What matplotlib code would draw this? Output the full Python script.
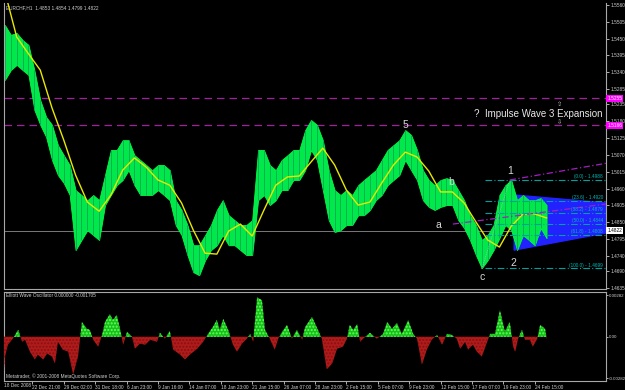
import matplotlib
matplotlib.use("Agg")
import matplotlib.pyplot as plt
import numpy as np

plt.rcParams['font.family'] = ['Liberation Sans', 'DejaVu Sans']

# ---------------- data ----------------
symbol_text = "EURCHF,H1  1.4853 1.4854 1.4799 1.4822"
osc_title = "Elliott Wave Oscillator 0.000000 -0.001705"
copyright_text = "Metatrader, \u00a9 2001-2008 MetaQuotes Software Corp."

# price samples: every 12 H1 bars starting at bar 8
sample_start, sample_step = 8, 12
price_high = [1.5494, 1.5462, 1.5468, 1.5445, 1.5429, 1.5347, 1.5249, 1.5194, 1.5168, 1.5102,
              1.5069, 1.5037, 1.4955, 1.4939, 1.4922, 1.4939, 1.4922, 1.5004, 1.5086, 1.5086,
              1.5118, 1.5118, 1.5069, 1.5053, 1.5037, 1.5020, 1.5037, 1.5037, 1.5020, 1.4922,
              1.4890, 1.4841, 1.4775, 1.4775, 1.4808, 1.4841, 1.4890, 1.4922, 1.4873, 1.4857,
              1.4841, 1.4841, 1.4857, 1.5086, 1.5086, 1.5037, 1.5020, 1.5053, 1.5069, 1.5086,
              1.5086, 1.5151, 1.5184, 1.5168, 1.5118, 1.5020, 1.4955, 1.4939, 1.4955, 1.4939,
              1.4971, 1.4988, 1.5004, 1.5020, 1.5053, 1.5086, 1.5102, 1.5118, 1.5151, 1.5135,
              1.5086, 1.5020, 1.4988, 1.4971, 1.4988, 1.4994, 1.4988, 1.4955, 1.4922, 1.4873,
              1.4841, 1.4792, 1.4808, 1.4841, 1.4939, 1.4971, 1.4988, 1.4922, 1.4939, 1.4922,
              1.4922, 1.4929, 1.4906]
price_low = [1.5315, 1.5347, 1.5364, 1.5347, 1.5331, 1.5217, 1.5168, 1.5128, 1.5053, 1.5004,
             1.4978, 1.4939, 1.4759, 1.4792, 1.4824, 1.4808, 1.4792, 1.4906, 1.4939, 1.4971,
             1.4988, 1.5020, 1.4971, 1.4939, 1.4939, 1.4939, 1.4955, 1.4939, 1.4922, 1.4841,
             1.4808, 1.4743, 1.4687, 1.4677, 1.4726, 1.4759, 1.4775, 1.4808, 1.4775, 1.4775,
             1.4759, 1.4743, 1.4743, 1.4922, 1.4939, 1.4906, 1.4922, 1.4955, 1.4955, 1.4988,
             1.4988, 1.5020, 1.5086, 1.5053, 1.4955, 1.4857, 1.4818, 1.4824, 1.4841, 1.4841,
             1.4873, 1.4873, 1.4890, 1.4922, 1.4939, 1.4971, 1.4988, 1.5004, 1.5053, 1.5020,
             1.4988, 1.4922, 1.4900, 1.4890, 1.4900, 1.4906, 1.4906, 1.4857, 1.4831, 1.4792,
             1.4743, 1.4700, 1.4726, 1.4759, 1.4798, 1.4841, 1.4824, 1.4759, 1.4808, 1.4792,
             1.4775, 1.4831, 1.4798]

# moving average (yellow), every 24 bars starting at bar 8
ma_step = 24
ma_values = [1.5602, 1.5455, 1.5400, 1.5347, 1.5223, 1.5118, 1.5004, 1.4916, 1.4886, 1.4939,
             1.5020, 1.5060, 1.5030, 1.4988, 1.4971, 1.4913, 1.4824, 1.4749, 1.4746, 1.4821,
             1.4844, 1.4805, 1.4890, 1.4971, 1.4998, 1.5001, 1.5047, 1.5092, 1.5037, 1.4955,
             1.4906, 1.4916, 1.4978, 1.5037, 1.5079, 1.5063, 1.5017, 1.4949, 1.4949, 1.4913,
             1.4851, 1.4792, 1.4769, 1.4837, 1.4877, 1.4877, 1.4864]

# Elliott wave oscillator readings (bar index, value)
osc_bar = [6, 8, 14, 24, 35, 43, 49, 59, 69, 75, 86, 94, 104, 110, 116, 126, 137, 147, 157, 165,
           175, 181, 188, 198, 206, 212, 222, 228, 236, 243, 249, 257, 267, 273, 283, 294, 304, 318, 324, 334,
           344, 351, 365, 375, 385, 400, 412, 422, 432, 440, 446, 453, 463, 473, 481, 491, 501, 508, 514, 522,
           532, 538, 548, 558, 565, 573, 583, 593, 603, 614, 620, 634, 646, 654, 664, 675, 685, 697, 705, 711,
           718, 726, 732, 738, 752, 766, 779, 787, 797, 807, 817, 830, 840, 848, 858, 868, 878, 889, 899, 909,
           919, 929, 936, 946, 952, 962, 970, 980, 991, 997, 1007, 1017, 1027, 1037, 1044, 1048, 1054, 1062, 1068, 1078,
           1084, 1093, 1099, 1109, 1113]
osc_val = [-0.00242, -0.00134, -0.00054, -0.00013, 0.00047, -0.00034, -0.00020, -0.00101, -0.00154, -0.00121,
           -0.00154, -0.00114, -0.00134, -0.00181, -0.00034, -0.00087, -0.00101, -0.00255, -0.00134, 0.00101,
           0.00054, 0.00047, -0.00020, -0.00067, 0.00013, 0.00101, 0.00154, 0.00114, 0.00148, 0.00047,
           -0.00054, 0.00034, 0.0, -0.00081, -0.00047, -0.00054, -0.00020, -0.00034, 0.00027, -0.00013,
           0.00040, -0.00087, -0.00121, -0.00154, -0.00121, -0.00081, -0.00034, 0.00020, 0.00067, 0.00114,
           0.00047, 0.00121, 0.00047, -0.00054, -0.00101, -0.00047, -0.00013, 0.00020, -0.00034, 0.00268,
           0.00248, 0.00047, -0.00013, -0.00087, -0.00013, 0.00034, 0.00081, -0.00013, 0.00047, -0.00020,
           0.00067, 0.00134, 0.00047, -0.00013, -0.00221, -0.00181, -0.00081, -0.00067, -0.00013, 0.00081,
           0.00047, 0.00087, -0.00034, -0.00013, 0.00027, -0.00013, 0.00020, 0.00101, 0.00054, 0.00094,
           0.00020, 0.00114, 0.00020, -0.00013, -0.00188, -0.00087, -0.00020, 0.00013, -0.00054, 0.00020,
           0.00013, -0.00013, -0.00081, -0.00034, -0.00087, -0.00054, -0.00101, -0.00134, -0.00034, 0.00020,
           0.00020, 0.00181, 0.00034, 0.00101, -0.00067, -0.00101, -0.00013, 0.00047, -0.00020, -0.00020,
           -0.00067, -0.00013, 0.00081, 0.00054, -0.00020]

x_tick_bars = [64 * i for i in range(1, 18)]
x_tick_labels = ["22 Dec 21:00", "29 Dec 02:00", "31 Dec 18:00", "6 Jan 23:00", "9 Jan 16:00",
                 "14 Jan 07:00", "18 Jan 23:00", "21 Jan 15:00", "26 Jan 07:00", "28 Jan 23:00",
                 "2 Feb 15:00", "5 Feb 07:00", "9 Feb 23:00", "12 Feb 15:00", "17 Feb 07:00",
                 "19 Feb 23:00", "24 Feb 15:00"]
first_label = "18 Dec 2008"
y_ticks = [1.5560, 1.5505, 1.5450, 1.5395, 1.5340, 1.5285, 1.5235, 1.5180, 1.5125, 1.5070,
           1.5015, 1.4960, 1.4905, 1.4850, 1.4795, 1.4740, 1.4690, 1.4635]
osc_ticks = [0.00282, 0.0, -0.00282]
osc_tick_labels = ["0.00282", "0.00", "-0.00282"]
last_price = 1.4822
target_levels = [1.5255, 1.5166]

fib_names = ["(0.0)", "(23.6)", "(38.2)", "(50.0)", "(61.8)", "(100.0)"]
fib_prices = [1.4988, 1.4920, 1.4879, 1.4844, 1.4808, 1.4699]
fib_start_bar = 987

triangle_bars = [1046, 1233, 1233, 1046]
triangle_prices = [1.4939, 1.4913, 1.4815, 1.4759]

trend1_bars, trend1_prices = [1037, 1235], [1.4988, 1.5043]
trend2_bars, trend2_prices = [921, 1235], [1.4844, 1.4910]
zigzag_bars, zigzag_prices = [980, 1037], [1.4697, 1.4988]

wave_labels = ["5", "b", "a", "c", "1", "2"]
wave_bars = [825, 917, 891, 980, 1037, 1044]
wave_prices = [1.5168, 1.4981, 1.4841, 1.4670, 1.5016, 1.4718]

# ---------------- drawing ----------------
FS = 3.4
W, H = 625, 390
fig = plt.figure(figsize=(W / 100, H / 100), dpi=100, facecolor='black')
L, R = 4 / W, 606 / W
ax = fig.add_axes([L, 1 - 289 / H, R - L, (289 - 3) / H], facecolor='black')
ax2 = fig.add_axes([L, 1 - 381 / H, R - L, (381 - 292) / H], facecolor='black', sharex=ax)

xmin, xmax = 6.1, 1233.2
ax.set_xlim(xmin, xmax)
ax.set_ylim(1.4632, 1.5566)
ax2.set_ylim(-0.00300, 0.00304)

for a in (ax, ax2):
    for s in a.spines.values():
        s.set_color('#a8a8a8')
        s.set_linewidth(0.8)
ax.spines['top'].set_visible(False)

# horizontal lines
ax.axhline(last_price, color='#8c8c8c', lw=0.6, zorder=1)
for lv in target_levels:
    ax.axhline(lv, color='#a020a0', lw=0.9, ls=(0, (6, 4)), zorder=1)

# price
bars = np.array([sample_start + sample_step * i for i in range(len(price_high))])
ax.fill_between(bars, price_low, price_high, color='#00e84a', lw=0.6, edgecolor='#00ff40', zorder=3)
ax.vlines(bars, price_low, price_high, color='#0a9a5a', lw=0.5, zorder=3)

# triangle
ax.fill(triangle_bars, triangle_prices, color='#2222ff', zorder=2, clip_on=True)

# MA
ma_bars = np.array([sample_start + ma_step * i for i in range(len(ma_values))])
ax.plot(ma_bars, ma_values, color='#e8e800', lw=1.0, zorder=4)

# fib lines
for nm, p in zip(fib_names, fib_prices):
    ax.plot([fib_start_bar, xmax], [p, p], color='#00a0a0', lw=0.8, ls=(0, (6, 2, 1, 2)), zorder=5)
    ax.text(xmax - 6, p + 0.0003, f"{nm} - {p:.4f}", color='#00b8b8', fontsize=FS,
            ha='right', va='bottom', zorder=6)

# trend lines
ax.plot(trend1_bars, trend1_prices, color='#a020c0', lw=0.9, ls=(0, (5, 2, 1, 2)), zorder=5)
ax.plot(trend2_bars, trend2_prices, color='#a020c0', lw=0.9, ls=(0, (5, 2, 1, 2)), zorder=5)
ax.plot(zigzag_bars, zigzag_prices, color='#c0c0c0', lw=0.6, ls=(0, (1, 1.5)), zorder=5)

# wave labels
for t, b, p in zip(wave_labels, wave_bars, wave_prices):
    ax.text(b, p, t, color='#d8d8d8', fontsize=7.5, ha='center', va='center', zorder=7)
ax.text(1233 - 6, 1.5203, "?  Impulse Wave 3 Expansion", color='#e8e8e8', fontsize=7, ha='right',
        va='center', zorder=7)
ax.text(1139, 1.5236, "\u21e7", color='#c8c8c8', fontsize=4.5, ha='center', va='center',
        family='DejaVu Sans')
ax.text(1139, 1.5176, "\u21e9", color='#c8c8c8', fontsize=4.5, ha='center', va='center',
        family='DejaVu Sans')

ax.text(0.003, 0.993, symbol_text, transform=ax.transAxes, color='#d0d0d0', fontsize=FS,
        ha='left', va='top')

# y axis (right)
ax.yaxis.tick_right()
ax.set_yticks(y_ticks)
ax.set_yticklabels([f"{v:.4f}" for v in y_ticks])
ax.tick_params(axis='y', colors='#d0d0d0', labelsize=FS, length=2, width=0.6, pad=1.5)
ax.tick_params(axis='x', bottom=False, labelbottom=False)
for lv in target_levels:
    ax.text(1.002, lv, f"{lv:.4f}", transform=ax.get_yaxis_transform(), color='white', fontsize=FS,
            ha='left', va='center', clip_on=False,
            bbox=dict(boxstyle='square,pad=0.2', fc='#ff00ff', ec='none'))
ax.text(1.002, last_price, f"{last_price:.4f}", transform=ax.get_yaxis_transform(), color='black',
        fontsize=FS, ha='left', va='center', clip_on=False,
        bbox=dict(boxstyle='square,pad=0.2', fc='white', ec='none'))

# oscillator
ob = np.array(osc_bar)
ov = np.array(osc_val)
ax2.fill_between(ob, ov, 0, where=ov >= 0, interpolate=True, facecolor='#18c018',
                 edgecolor='#60ff60', hatch='.....', lw=0, zorder=3)
ax2.fill_between(ob, ov, 0, where=ov <= 0, interpolate=True, facecolor='#b01c1c',
                 edgecolor='#8a1010', hatch='.....', lw=0, zorder=3)
ax2.yaxis.tick_right()
ax2.set_yticks(osc_ticks)
ax2.set_yticklabels(osc_tick_labels)
ax2.tick_params(axis='y', colors='#d0d0d0', labelsize=3.2, length=1.5, width=0.6, pad=0.8)
ax2.text(0.003, 0.985, osc_title, transform=ax2.transAxes, color='#d0d0d0', fontsize=FS,
         ha='left', va='top')
ax2.text(0.003, 0.02, copyright_text, transform=ax2.transAxes, color='#d0d0d0', fontsize=FS,
         ha='left', va='bottom')

ax2.set_xticks(x_tick_bars)
ax2.set_xticklabels(x_tick_labels)
ax2.tick_params(axis='x', colors='#d0d0d0', labelsize=FS, length=2, width=0.6, pad=1.0)
for lbl in ax2.get_xticklabels():
    lbl.set_horizontalalignment('left')
ax2.text(0.0, -0.025, first_label, transform=ax2.transAxes, color='#d0d0d0', fontsize=FS,
         ha='left', va='top')

fig.savefig("out.png", dpi=100, facecolor='black')
